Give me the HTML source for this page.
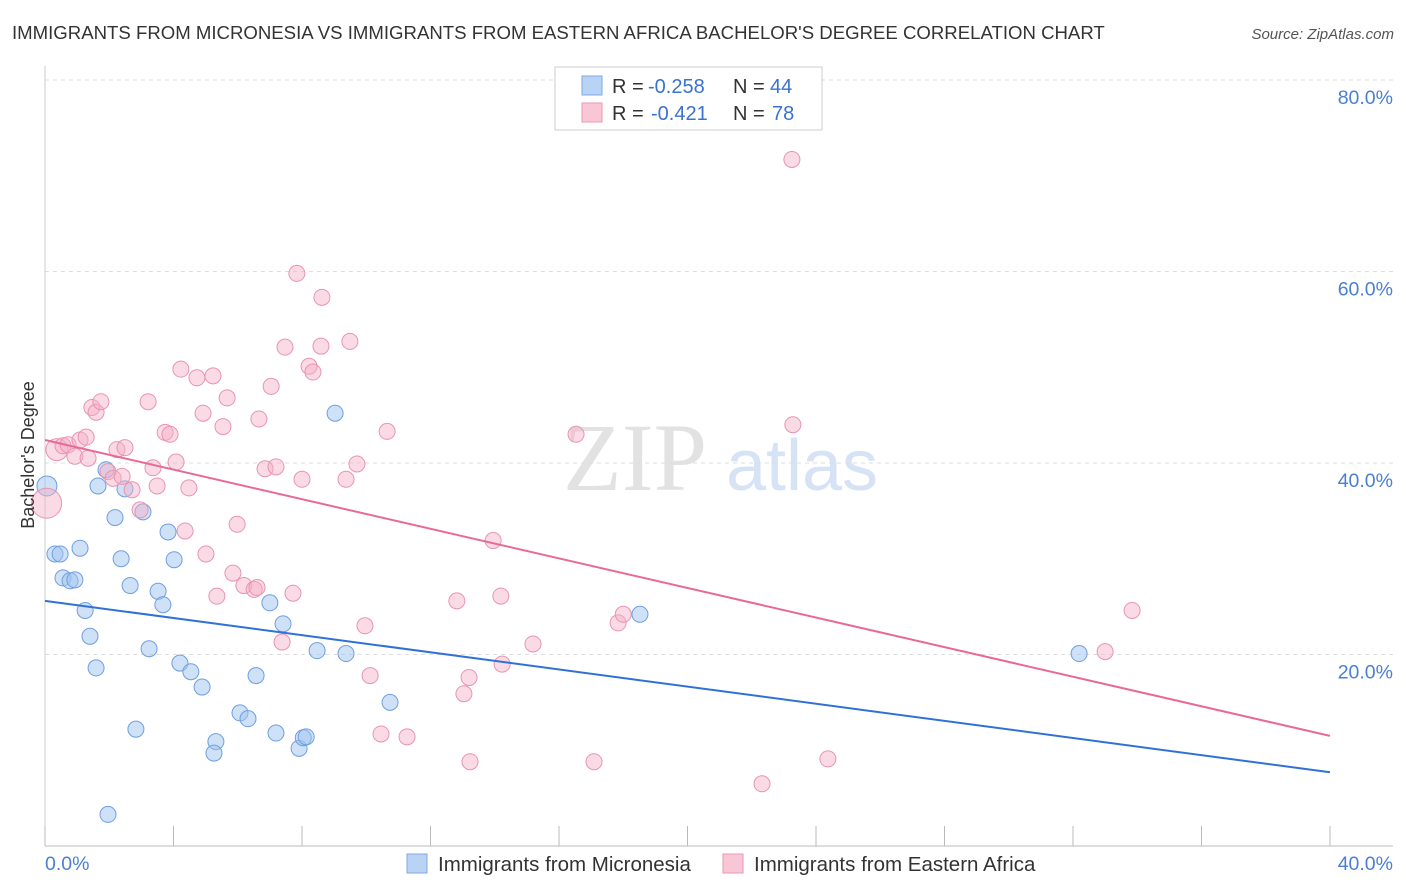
<!DOCTYPE html>
<html><head><meta charset="utf-8"><style>
body{margin:0;background:#fff;font-family:"Liberation Sans",sans-serif}
svg{display:block}
</style></head><body>
<svg id="chart" width="1406" height="892" xmlns="http://www.w3.org/2000/svg">
<text x="12" y="39" font-size="18.6" fill="#333">IMMIGRANTS FROM MICRONESIA VS IMMIGRANTS FROM EASTERN AFRICA BACHELOR'S DEGREE CORRELATION CHART</text>
<text x="1394" y="39" font-size="15" fill="#555" font-style="italic" text-anchor="end">Source: ZipAtlas.com</text>
<g>
<text x="635" y="490" font-size="96" fill="#e2e2e2" font-family="Liberation Serif,serif" text-anchor="middle">ZIP</text>
<text x="802" y="490" font-size="72" fill="#d6e3f5" text-anchor="middle">atlas</text>
</g>
<g id="grid"></g>
<g id="axes"></g>
<g id="pts"></g>
<g id="lines"></g>
<text transform="translate(34,455) rotate(-90)" font-size="18" fill="#333" text-anchor="middle">Bachelor's Degree</text>
<g>
<rect x="555" y="67" width="267" height="63" fill="#fff" stroke="#ccc"/>
<rect x="582" y="76" width="20" height="19" fill="#b9d3f5" stroke="#7ea8e4"/>
<rect x="582" y="103" width="20" height="19" fill="#f9c6d5" stroke="#eb97b2"/>
<text x="612" y="93" font-size="20" fill="#333">R =</text>
<text x="648" y="93" font-size="20" fill="#3a72d0">-0.258</text>
<text x="733" y="93" font-size="20" fill="#333">N =</text>
<text x="770" y="93" font-size="20" fill="#3a72d0">44</text>
<text x="612" y="120" font-size="20" fill="#333">R =</text>
<text x="651" y="120" font-size="20" fill="#3a72d0">-0.421</text>
<text x="733" y="120" font-size="20" fill="#333">N =</text>
<text x="772" y="120" font-size="20" fill="#3a72d0">78</text>
</g>
<g>
<rect x="407" y="854" width="20" height="19" fill="#b9d3f5" stroke="#7ea8e4"/>
<text x="438" y="871" font-size="20.5" fill="#333">Immigrants from Micronesia</text>
<rect x="723" y="854" width="20" height="19" fill="#f9c6d5" stroke="#eb97b2"/>
<text x="754" y="871" font-size="20.5" fill="#333">Immigrants from Eastern Africa</text>
</g>
</svg>
<script>
const yTicks=[20,40,60,80];
const yTickLabels=["20.0%","40.0%","60.0%","80.0%"];
const xTickLabels=["0.0%","40.0%"];
const blueX=[0.06,0.31,0.47,1.09,0.56,0.78,0.93,1.25,1.40,1.59,1.65,1.90,2.18,2.49,2.37,2.65,2.83,3.05,3.24,3.52,3.67,3.83,4.02,4.20,4.54,4.89,5.32,5.26,6.07,6.32,6.57,7.00,7.41,7.19,7.91,8.04,8.13,8.47,9.37,9.03,10.74,1.96,18.52,32.19];
const blueY=[37.6,30.5,30.5,31.1,28.0,27.7,27.8,24.6,21.9,18.6,37.6,39.3,34.3,37.3,30.0,27.2,12.2,34.9,20.6,26.6,25.2,32.8,29.9,19.1,18.2,16.6,10.9,9.7,13.9,13.3,17.8,25.4,23.2,11.8,10.2,11.3,11.4,20.4,20.1,45.2,15.0,3.3,24.2,20.1];
const pinkX=[0.05,0.37,0.56,0.72,0.93,1.09,1.28,1.46,1.59,1.74,1.96,2.12,2.24,2.49,2.40,2.71,2.96,3.21,3.36,3.49,3.74,3.89,4.08,4.23,4.36,4.48,4.73,4.92,5.01,5.23,5.35,5.54,5.67,5.85,5.98,6.19,6.51,6.60,6.66,6.85,7.04,7.19,7.38,7.47,7.72,7.84,8.00,8.22,8.34,8.59,8.62,9.37,9.49,9.71,9.96,10.12,10.46,10.65,11.27,13.23,13.04,13.20,12.82,13.95,14.19,14.23,15.19,16.53,17.09,17.84,18.00,22.32,23.28,23.25,24.37,33.00,33.84,1.34];
const pinkY=[35.8,41.4,41.8,41.9,40.7,42.4,42.7,45.8,45.3,46.4,39.1,38.4,41.4,41.6,38.6,37.2,35.1,46.4,39.5,37.6,43.2,43.0,40.1,49.8,32.9,37.4,48.9,45.2,30.5,49.1,26.1,43.8,46.8,28.5,33.6,27.2,26.8,27.0,44.6,39.4,48.0,39.6,21.3,52.1,26.4,59.8,38.3,50.1,49.5,52.2,57.3,38.3,52.7,39.9,23.0,17.8,11.7,43.3,11.4,8.8,15.9,17.6,25.6,31.9,26.1,19.0,21.1,43.0,8.8,23.3,24.2,6.5,44.0,71.7,9.1,20.3,24.6,40.5];
const blueTrend=[25.6,7.7];
const pinkTrend=[42.4,11.5];
const NS="http://www.w3.org/2000/svg";
const X=v=>45+v/40*1285;
const Y=v=>846-v*9.575;
function mk(t,a,p){const e=document.createElementNS(NS,t);for(const k in a)e.setAttribute(k,a[k]);p.appendChild(e);return e;}
const grid=document.getElementById('grid'),axes=document.getElementById('axes');
yTicks.forEach((t,i)=>{
 const l=mk('line',{x1:45,x2:1393,y1:Y(t),y2:Y(t),stroke:'#ddd','stroke-dasharray':'4,4'},grid);
 
 
 const tx=mk('text',{x:1393,y:Y(t)+24,'font-size':19.5,fill:'#4a7fd4','text-anchor':'end'},axes);
 tx.textContent=yTickLabels[i];
 
 
});
const ax=mk('line',{x1:45,x2:1393,y1:846,y2:846,stroke:'#bbb'},axes);


const ay=mk('line',{x1:45,x2:45,y1:66,y2:846,stroke:'#ccc'},axes);


for(let i=0;i<=10;i++){
 const tk=mk('line',{x1:X(i*4),x2:X(i*4),y1:826,y2:846,stroke:'#bbb'},axes);
 
 
}
[[0,'start',45],[40,'end',1393]].forEach((d,i)=>{
 const tx=mk('text',{x:d[2],y:870,'font-size':19.5,fill:'#4a7fd4','text-anchor':d[1]},axes);
 tx.textContent=xTickLabels[i];
 
 
});
const pts=document.getElementById('pts');


blueX.forEach((x,i)=>{
 const c=mk('circle',{cx:X(x),cy:Y(blueY[i]),r:i==0?10:8,fill:'rgba(160,195,240,0.5)',stroke:'#6e9fe0','stroke-width':1},pts);
 
 
});
pinkX.forEach((x,i)=>{
 const c=mk('circle',{cx:X(x),cy:Y(pinkY[i]),r:i==0?15:(i==1?11:8),fill:'rgba(245,175,198,0.45)',stroke:'#e994b0','stroke-width':1},pts);
 
 
});
const lines=document.getElementById('lines');
const bl=mk('line',{x1:X(0),y1:Y(blueTrend[0]),x2:X(40),y2:Y(blueTrend[1]),stroke:'#2f72d6','stroke-width':2},lines);


const pl=mk('line',{x1:X(0),y1:Y(pinkTrend[0]),x2:X(40),y2:Y(pinkTrend[1]),stroke:'#e86a94','stroke-width':2},lines);


</script>
</body></html>
